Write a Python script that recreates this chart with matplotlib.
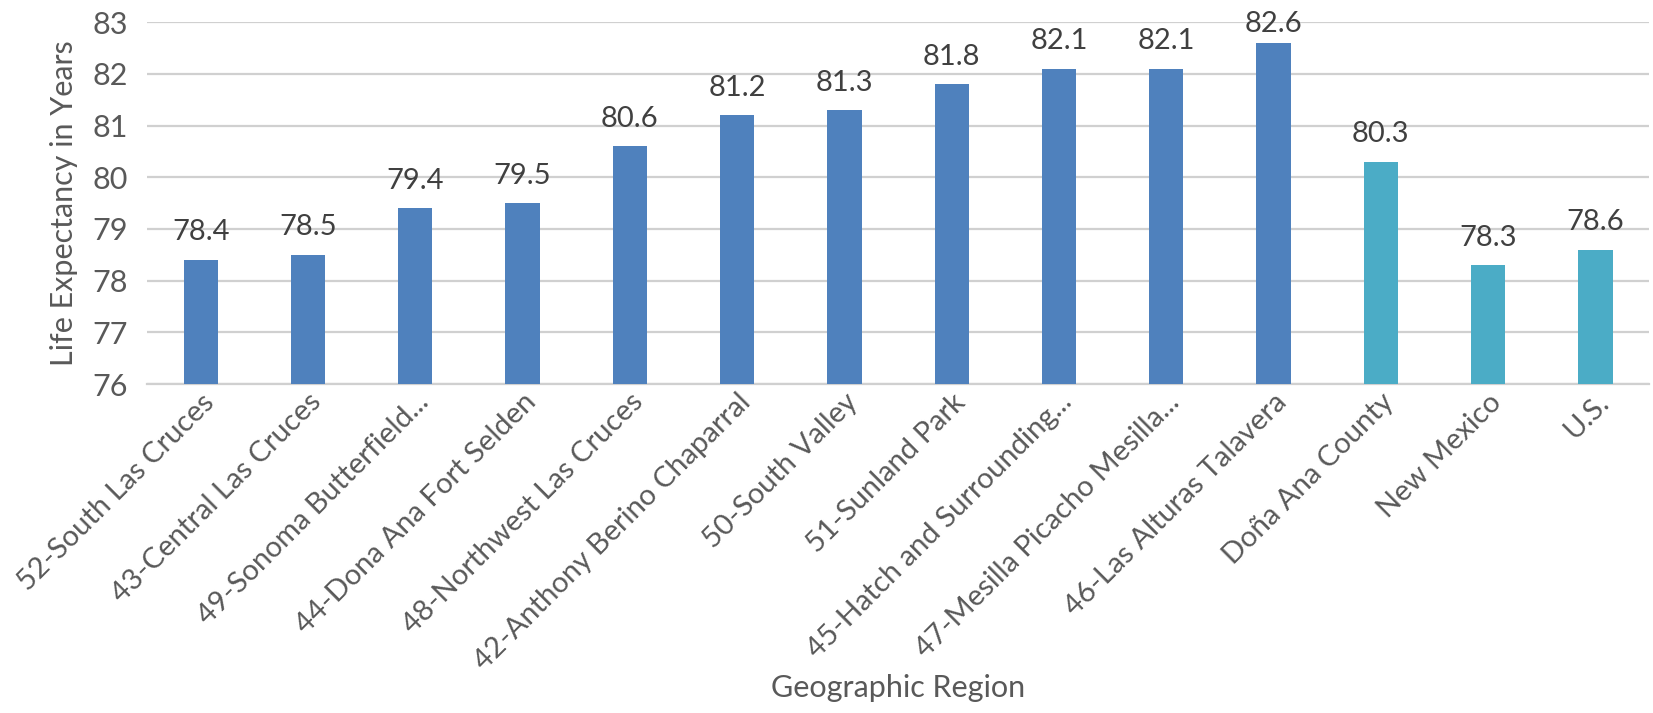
import numpy as np
import matplotlib.pyplot as plt

regions = ["52-South Las Cruces", "43-Central Las Cruces", "49-Sonoma Butterfield...",
           "44-Dona Ana Fort Selden", "48-Northwest Las Cruces", "42-Anthony Berino Chaparral",
           "50-South Valley", "51-Sunland Park", "45-Hatch and Surrounding...",
           "47-Mesilla Picacho Mesilla...", "46-Las Alturas Talavera", "Doña Ana County",
           "New Mexico", "U.S."]
life_exp = [78.4, 78.5, 79.4, 79.5, 80.6, 81.2, 81.3, 81.8, 82.1, 82.1, 82.6, 80.3, 78.3, 78.6]
is_area = [True]*11 + [False]*3   # small areas vs county/state/nation

dark = "#4F81BD"
light = "#4BACC6"
txt = "#595959"

plt.rcParams['font.family'] = ['Lato', 'DejaVu Sans']

fig = plt.figure(figsize=(16.53, 7.13), dpi=100)
ax = fig.add_axes([0.089, 0.4614, 0.9086, 0.5076])

x = np.arange(len(regions))
colors = [dark if a else light for a in is_area]
base = 76
bars = ax.bar(x, np.array(life_exp) - base, bottom=base, width=0.32, color=colors, zorder=3)

for xi, v in zip(x, life_exp):
    # keep the tallest label inside the figure, like the original
    off = 14 if v < 82.5 else 8
    ax.annotate(f"{v:.1f}", (xi, v), xytext=(0, off), textcoords="offset points",
                ha="center", va="baseline", fontsize=21, color="#404040")

ax.set_ylim(76, 83)
ax.set_xlim(-0.5, len(regions) - 0.5)
ax.set_yticks(range(76, 84))
ax.yaxis.grid(True, color="#D0D0D0", linewidth=1.6, zorder=0)
ax.tick_params(axis="both", length=0, labelsize=22, colors=txt)
ax.tick_params(axis="y", pad=14)
ax.set_xticks(x)
ax.set_xticklabels(regions, rotation=45, ha="right", rotation_mode="anchor", fontsize=21)
for s in ["top", "right", "left"]:
    ax.spines[s].set_visible(False)
ax.spines["bottom"].set_color("#D0D0D0")
ax.spines["bottom"].set_linewidth(1.6)

ax.set_ylabel("Life Expectancy in Years", fontsize=22, color=txt, labelpad=10)
fig.text(ax.get_position().x0 + ax.get_position().width/2, 0.035, "Geographic Region",
         ha="center", va="center", fontsize=22, color=txt)

fig.savefig("out.png", dpi=100)
